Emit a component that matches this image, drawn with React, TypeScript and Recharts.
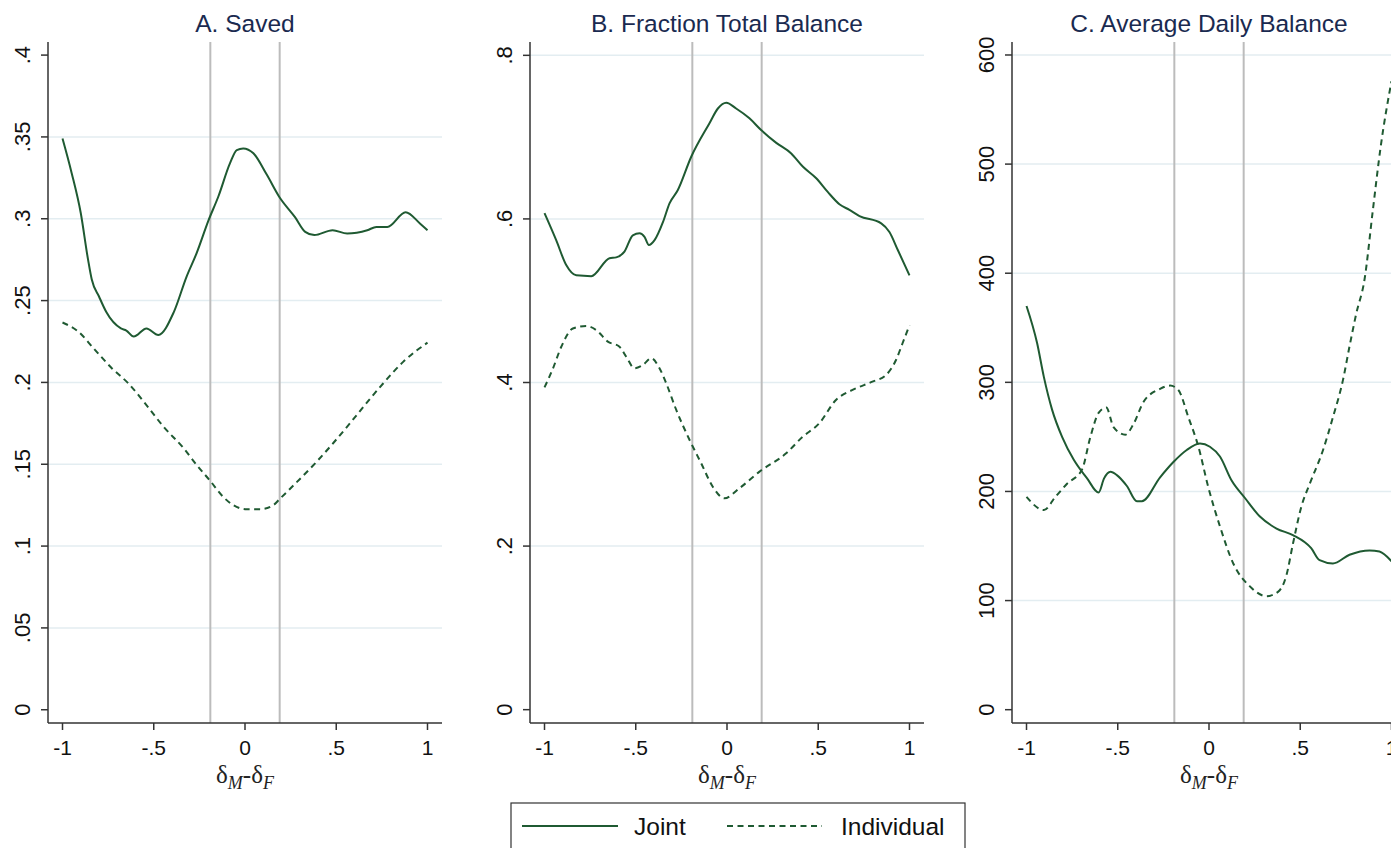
import { LineChart, Line, XAxis, YAxis, ReferenceLine } from 'recharts';

const xTicks = [-1, -0.5, 0, 0.5, 1];
const cutoffs = [-0.19, 0.19];

// A. Saved
const savedJointX = [-1, -0.95, -0.9, -0.86, -0.84, -0.8, -0.76, -0.68, -0.65, -0.61, -0.54, -0.475, -0.39, -0.32, -0.265, -0.2, -0.146, -0.082, -0.045, -0.01, 0.046, 0.119, 0.19, 0.274, 0.33, 0.38, 0.48, 0.56, 0.67, 0.72, 0.78, 0.88, 0.96, 1];
const savedJointY = [0.349, 0.328, 0.3035, 0.275, 0.263, 0.2525, 0.243, 0.233, 0.2317, 0.228, 0.233, 0.229, 0.243, 0.2647, 0.279, 0.299, 0.3136, 0.334, 0.342, 0.343, 0.34, 0.327, 0.313, 0.301, 0.292, 0.29, 0.293, 0.291, 0.293, 0.295, 0.295, 0.304, 0.297, 0.293];
const savedIndivX = [-1, -0.913, -0.831, -0.73, -0.64, -0.539, -0.447, -0.338, -0.265, -0.192, -0.119, -0.064, 0.009, 0.082, 0.155, 0.192, 0.265, 0.393, 0.484, 0.575, 0.685, 0.758, 0.868, 1];
const savedIndivY = [0.2366, 0.231, 0.221, 0.2087, 0.1995, 0.186, 0.173, 0.16, 0.1496, 0.14, 0.13, 0.125, 0.1225, 0.1225, 0.125, 0.129, 0.137, 0.1516, 0.163, 0.175, 0.19, 0.1995, 0.2127, 0.2243];
const savedTicks = [0, 0.05, 0.1, 0.15, 0.2, 0.25, 0.3, 0.35, 0.4];
const savedGrid = [0.05, 0.1, 0.15, 0.2, 0.25, 0.3, 0.35];

// B. Fraction Total Balance
const fracJointX = [-1, -0.936, -0.881, -0.826, -0.744, -0.644, -0.607, -0.562, -0.516, -0.479, -0.452, -0.428, -0.397, -0.35, -0.315, -0.27, -0.196, -0.096, -0.05, -0.004, 0.05, 0.123, 0.187, 0.27, 0.352, 0.415, 0.489, 0.552, 0.616, 0.671, 0.726, 0.845, 0.89, 0.936, 1];
const fracJointY = [0.607, 0.574, 0.5436, 0.531, 0.53, 0.552, 0.553, 0.56, 0.58, 0.5824, 0.578, 0.568, 0.574, 0.5966, 0.619, 0.635, 0.676, 0.717, 0.735, 0.742, 0.735, 0.723, 0.7087, 0.693, 0.68, 0.664, 0.6497, 0.633, 0.618, 0.611, 0.6035, 0.5946, 0.584, 0.562, 0.531];
const fracIndivX = [-1, -0.954, -0.908, -0.845, -0.771, -0.716, -0.653, -0.589, -0.552, -0.507, -0.461, -0.415, -0.37, -0.333, -0.278, -0.205, -0.141, -0.078, -0.014, 0.068, 0.178, 0.324, 0.415, 0.505, 0.597, 0.688, 0.797, 0.871, 0.926, 0.962, 1];
const fracIndivY = [0.394, 0.417, 0.4437, 0.466, 0.469, 0.464, 0.45, 0.4437, 0.4315, 0.4174, 0.4214, 0.4296, 0.4174, 0.399, 0.3664, 0.3297, 0.301, 0.2726, 0.2584, 0.2707, 0.291, 0.3134, 0.3337, 0.35, 0.3786, 0.391, 0.401, 0.409, 0.4275, 0.448, 0.47];
const fracTicks = [0, 0.2, 0.4, 0.6, 0.8];
const fracGrid = [0.2, 0.4, 0.6, 0.8];

// C. Average Daily Balance
const adbJointX = [-1, -0.942, -0.905, -0.86, -0.805, -0.741, -0.668, -0.605, -0.575, -0.54, -0.505, -0.45, -0.395, -0.368, -0.268, -0.195, -0.122, -0.049, 0.005, 0.06, 0.124, 0.197, 0.279, 0.37, 0.46, 0.56, 0.606, 0.679, 0.77, 0.88, 0.934, 1];
const adbJointY = [370, 336, 305, 275, 250, 229, 212, 199, 212, 218, 215, 205, 191, 191, 213, 227, 238, 244, 241, 232, 210, 194, 177, 166, 160, 148, 137, 134, 142, 146, 145, 136];
const adbIndivX = [-1, -0.905, -0.842, -0.778, -0.696, -0.65, -0.605, -0.563, -0.523, -0.459, -0.413, -0.359, -0.268, -0.213, -0.168, -0.113, -0.058, -0.004, 0.06, 0.133, 0.224, 0.315, 0.378, 0.424, 0.46, 0.506, 0.552, 0.625, 0.679, 0.734, 0.77, 0.807, 0.852, 0.898, 0.94, 1];
const adbIndivY = [195, 183, 195, 207, 220, 250, 272, 277, 259, 252, 262, 282, 294, 297, 293, 268, 241, 204, 168, 134, 113, 104, 108, 123, 152, 186, 207, 238, 268, 302, 333, 363, 394, 458, 515, 576];
const adbTicks = [0, 100, 200, 300, 400, 500, 600];
const adbGrid = [100, 200, 300, 400, 500, 600];

const GREEN = '#1f5a32';
const AXIS = '#333';
const SANS = '"Liberation Sans", Arial, Helvetica, sans-serif';
const SERIF = '"Liberation Serif", "Times New Roman", serif';

const PLOT_W = 394;
const Y_W = 48;

const pts = (xs: number[], ys: number[]) => xs.map((x, i) => ({ x, y: ys[i] }));
const fmt = (v: number) => (v === 0 ? '0' : String(v).replace(/^(-?)0\./, '$1.'));

const XTick = (props: any) => {
  const { x, y, payload } = props;
  return (
    <text x={x} y={y} dy="0.72em" textAnchor="middle" fontSize={21} fill="#111" fontFamily={SANS}>
      {fmt(payload.value)}
    </text>
  );
};

const YTick = (props: any) => {
  const { x, y, payload } = props;
  return (
    <text x={x} y={y} transform={`rotate(-90 ${x} ${y})`} textAnchor="middle" fontSize={22} fill="#111" fontFamily={SANS}>
      {fmt(payload.value)}
    </text>
  );
};

const XLabel = (props: any) => {
  const vb = props.viewBox || { x: Y_W, y: 723, width: PLOT_W };
  const cx = vb.x + vb.width / 2;
  return (
    <text x={cx} y={vb.y + 60} textAnchor="middle" fontFamily={SERIF} fontSize={25} fill="#222">
      δ<tspan fontStyle="italic" fontSize={18} dy={6}>M</tspan>
      <tspan dy={-6}>-δ</tspan>
      <tspan fontStyle="italic" fontSize={18} dy={6}>F</tspan>
    </text>
  );
};

interface PanelProps {
  plotLeft: number;
  yDomain: [number, number];
  yTicks: number[];
  grid: number[];
  joint: { x: number; y: number }[];
  indiv: { x: number; y: number }[];
}

function Panel({ plotLeft, yDomain, yTicks, grid, joint, indiv }: PanelProps) {
  return (
    <div style={{ position: 'absolute', left: plotLeft - Y_W, top: 0 }}>
      <LineChart width={Y_W + PLOT_W + 10} height={848} margin={{ top: 42, right: 10, bottom: 65, left: 0 }}>
        <XAxis
          dataKey="x"
          type="number"
          domain={[-1.0795, 1.0795]}
          ticks={xTicks}
          interval={0}
          allowDataOverflow
          height={60}
          tickSize={7}
          tickMargin={10}
          tick={<XTick />}
          axisLine={{ stroke: AXIS, strokeWidth: 1.5 }}
          tickLine={{ stroke: AXIS, strokeWidth: 1.5 }}
          label={{ content: (p: any) => <XLabel {...p} /> }}
        />
        <YAxis
          type="number"
          domain={yDomain}
          ticks={yTicks}
          interval={0}
          allowDataOverflow
          width={Y_W}
          tickSize={7}
          tickMargin={11}
          tick={<YTick />}
          axisLine={{ stroke: AXIS, strokeWidth: 1.5 }}
          tickLine={{ stroke: AXIS, strokeWidth: 1.5 }}
        />
        {grid.map((g) => (
          <ReferenceLine key={`g${g}`} y={g} stroke="#e3edf1" strokeWidth={1.5} />
        ))}
        {cutoffs.map((c) => (
          <ReferenceLine key={`c${c}`} x={c} stroke="#bcbcbc" strokeWidth={2} />
        ))}
        <Line data={joint} dataKey="y" type="monotone" stroke={GREEN} strokeWidth={2} dot={false} isAnimationActive={false} />
        <Line data={indiv} dataKey="y" type="monotone" stroke={GREEN} strokeWidth={2} strokeDasharray="6 4.5" dot={false} isAnimationActive={false} />
      </LineChart>
    </div>
  );
}

const titles = ['A. Saved', 'B. Fraction Total Balance', 'C. Average Daily Balance'];
const plotLefts = [48, 530, 1012];

export default function App() {
  return (
    <div style={{ position: 'fixed', left: 0, top: 0, width: 1391, height: 848, overflow: 'hidden', background: '#fff' }}>
      <Panel plotLeft={plotLefts[0]} yDomain={[-0.0081, 0.408]} yTicks={savedTicks} grid={savedGrid} joint={pts(savedJointX, savedJointY)} indiv={pts(savedIndivX, savedIndivY)} />
      <Panel plotLeft={plotLefts[1]} yDomain={[-0.0163, 0.8163]} yTicks={fracTicks} grid={fracGrid} joint={pts(fracJointX, fracJointY)} indiv={pts(fracIndivX, fracIndivY)} />
      <Panel plotLeft={plotLefts[2]} yDomain={[-12.2, 611.9]} yTicks={adbTicks} grid={adbGrid} joint={pts(adbJointX, adbJointY)} indiv={pts(adbIndivX, adbIndivY)} />
      <svg width={1391} height={848} style={{ position: 'absolute', left: 0, top: 0, pointerEvents: 'none' }}>
        {titles.map((t, i) => (
          <text key={t} x={plotLefts[i] + PLOT_W / 2} y={32} textAnchor="middle" fontFamily={SANS} fontSize={24.5} fill="#1a2a50">
            {t}
          </text>
        ))}
        <rect x={511} y={803} width={454} height={60} fill="#fff" stroke={AXIS} strokeWidth={1.2} />
        <line x1={522} x2={618} y1={826} y2={826} stroke={GREEN} strokeWidth={2} />
        <text x={634} y={835} fontFamily={SANS} fontSize={24.5} fill="#111">Joint</text>
        <line x1={727} x2={822} y1={826} y2={826} stroke={GREEN} strokeWidth={2} strokeDasharray="6 4.5" />
        <text x={841} y={835} fontFamily={SANS} fontSize={24.5} fill="#111">Individual</text>
      </svg>
    </div>
  );
}
